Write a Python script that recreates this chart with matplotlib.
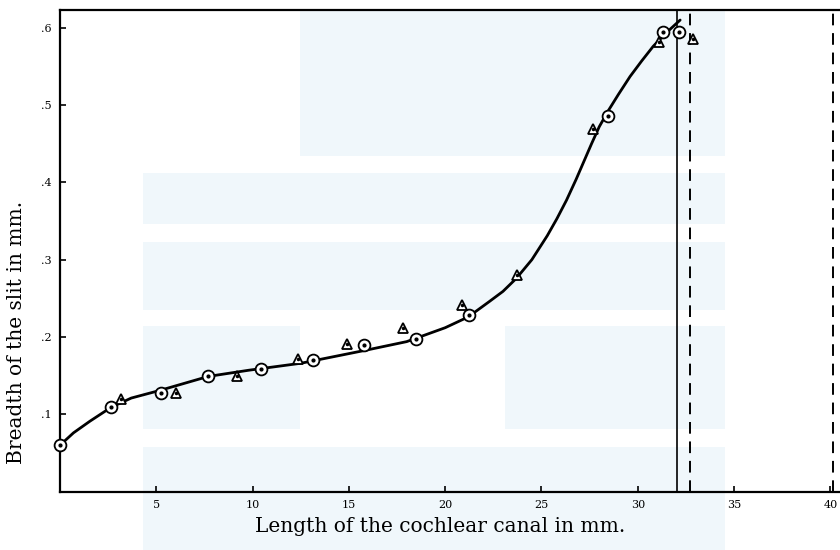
import matplotlib
matplotlib.use("Agg")
import matplotlib.pyplot as plt
from matplotlib.patches import Rectangle

# circles: one series of measurements
circ_x = [0.0, 2.65, 5.23, 7.70, 10.43, 13.16, 15.76, 18.48, 21.25, 28.46, 31.33, 32.15]
circ_y = [0.060, 0.109, 0.128, 0.149, 0.159, 0.170, 0.189, 0.198, 0.229, 0.486, 0.595, 0.595]

# triangles: second series
tri_x = [3.15, 6.02, 9.20, 12.34, 14.88, 17.80, 20.88, 23.75, 27.68, 31.12, 32.87]
tri_y = [0.120, 0.128, 0.149, 0.171, 0.191, 0.211, 0.241, 0.280, 0.469, 0.582, 0.585]

# hand-drawn smooth curve
curve_x = [0.0, 0.7, 1.55, 2.65, 3.7, 5.2, 7.7, 9.8, 12.5, 15.9, 18.0, 20.0,
           21.2, 22.3, 23.0, 23.7, 24.5, 25.3, 25.8, 26.3, 26.8, 27.2, 27.6,
           28.0, 28.5, 29.0, 29.6, 30.2, 30.8, 31.5, 32.2]
curve_y = [0.060, 0.076, 0.091, 0.109, 0.121, 0.131, 0.149, 0.157, 0.166, 0.183,
           0.194, 0.212, 0.226, 0.246, 0.259, 0.276, 0.300, 0.331, 0.353, 0.377,
           0.404, 0.427, 0.450, 0.472, 0.494, 0.514, 0.537, 0.557, 0.576, 0.594,
           0.610]

solid_x = 32.06      # end of canal
dashed_x = [32.72, 40.15]

xticks = [5, 10, 15, 20, 25, 30, 35, 40]
yticks = [0.1, 0.2, 0.3, 0.4, 0.5, 0.6]
ytick_labels = [".1", ".2", ".3", ".4", ".5", ".6"]

W, H = 840, 550
fig = plt.figure(figsize=(W / 100, H / 100), dpi=100)

# faint watermark bands behind the chart (pixel coords, from top)
wm = "#f0f7fb"
for x0, y0, x1, y1 in [(300, 10, 725, 156), (143, 173, 725, 224), (143, 242, 725, 310),
                       (143, 326, 300, 429), (505, 326, 725, 429), (143, 447, 725, 550)]:
    fig.patches.append(Rectangle((x0 / W, 1 - y1 / H), (x1 - x0) / W, (y1 - y0) / H,
                                 transform=fig.transFigure, color=wm, zorder=0, lw=0))

ax = fig.add_axes([60 / W, (H - 491.6) / H, (W - 60) / W, (491.6 - 10) / H])
ax.set_zorder(2)
ax.patch.set_alpha(0)
ax.set_xlim(0, 40.5)
ax.set_ylim(0, 0.623)

ax.plot(curve_x, curve_y, color="black", lw=2.0, zorder=2,
        solid_capstyle="round", solid_joinstyle="round")

ax.axvline(solid_x, color="black", lw=1.2, zorder=1)
for dx in dashed_x:
    ax.axvline(dx, color="black", lw=1.4, ls=(0, (6, 4)), zorder=1)

ax.plot(circ_x, circ_y, ls="none", marker="o", ms=8.5, mfc="white", mec="black",
        mew=1.3, zorder=3, clip_on=False)
ax.plot(circ_x, circ_y, ls="none", marker="o", ms=2, color="black", zorder=4, clip_on=False)
ax.plot(tri_x, tri_y, ls="none", marker="^", ms=7.5, mfc="white", mec="black",
        mew=1.3, zorder=3)
ax.plot(tri_x, tri_y, ls="none", marker="o", ms=1.5, color="black", zorder=4)

for s in ["left", "bottom", "top"]:
    ax.spines[s].set_linewidth(1.6)
ax.spines["right"].set_visible(False)

serif = ["DejaVu Serif"]
ax.set_xticks(xticks)
ax.set_xticklabels([str(t) for t in xticks], family=serif, fontsize=8)
ax.set_yticks(yticks)
ax.set_yticklabels(ytick_labels, family=serif, fontsize=8)
ax.tick_params(direction="in", length=4, width=1.2)
ax.tick_params(axis="x", pad=6)
ax.tick_params(axis="y", pad=6)

fig.text(440 / W, 1 - 527 / H, "Length of the cochlear canal in mm.",
         family=serif, fontsize=14.5, ha="center", va="center")
fig.text(17 / W, 1 - 332 / H, "Breadth of the slit in mm.",
         family=serif, fontsize=14.5, ha="center", va="center", rotation=90)

fig.savefig("out.png", dpi=100)
